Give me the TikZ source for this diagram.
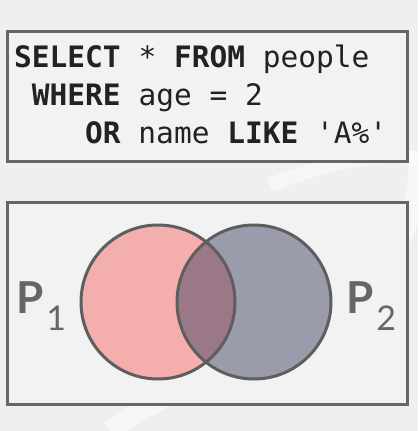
\documentclass[tikz,border=0pt]{standalone}
\usepackage{fontspec}
\setmonofont{DejaVu Sans Mono}
\setsansfont{Lato}
\begin{document}
\begin{tikzpicture}[x=1pt,y=-1pt,
  boxframe/.style={draw=boxgray,line width=3pt,fill=boxfill},
  sqltext/.style={anchor=base west,inner sep=0pt,font=\ttfamily\fontsize{29.5}{36}\selectfont,text=txtgray},
  ring/.style={draw=ringgray,line width=3pt},
  plabel/.style={anchor=base west,inner sep=0pt,text=labgray,font=\sffamily\bfseries\fontsize{44}{50}\selectfont}]
\definecolor{bg}{HTML}{EFEFEF}
\definecolor{boxgray}{HTML}{666666}
\definecolor{boxfill}{HTML}{F2F2F2}
\definecolor{txtgray}{HTML}{222222}
\definecolor{ringgray}{HTML}{5E5E5E}
\definecolor{labgray}{HTML}{666666}
\definecolor{pinkfill}{HTML}{F4AEAE}
\definecolor{bluefill}{HTML}{9A9CAB}
\definecolor{mixfill}{HTML}{9B7888}
\newcommand{\psub}[1]{\kern3pt\raisebox{-17pt}{\mdseries\fontsize{34}{40}\selectfont #1}}
\useasboundingbox (0,0) rectangle (418,431);
\fill[bg] (0,0) rectangle (418,431);
% faint background swooshes
\draw[white,opacity=0.5,line width=20pt] (110,431) .. controls (200,360) and (430,330) .. (418,150);
\draw[white,opacity=0.45,line width=14pt] (270,185) .. controls (330,160) and (400,150) .. (418,160);
% query box
\node[boxframe,minimum width=400pt,minimum height=130pt,anchor=north west,inner sep=0pt] (q) at (6,30) {};
\node[sqltext] (l1) at (14,67) {\textbf{SELECT} * \textbf{FROM} people};
\node[sqltext] (l2) at (31.75,105) {\textbf{WHERE} age = 2};
\node[sqltext] (l3) at (85,143) {\textbf{OR} name \textbf{LIKE} 'A\%'};
% venn box
\node[boxframe,minimum width=400pt,minimum height=202pt,anchor=north west,inner sep=0pt] (v) at (6,201) {};
\fill[pinkfill] (158,302) circle (77);
\fill[bluefill] (254,302) circle (77);
\begin{scope}
\clip (158,302) circle (77);
\fill[mixfill] (254,302) circle (77);
\end{scope}
\draw[ring] (158,302) circle (77);
\draw[ring] (254,302) circle (77);
\node[plabel] (p1) at (16,313) {P\psub{1}};
\node[plabel] (p2) at (346,313) {P\psub{2}};
\end{tikzpicture}
\end{document}
